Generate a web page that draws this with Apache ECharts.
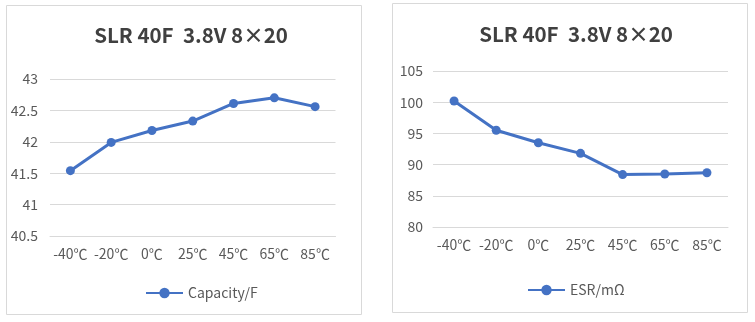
<!DOCTYPE html>
<html><head><meta charset="utf-8">
<script src="https://cdn.jsdelivr.net/npm/echarts@6/dist/echarts.min.js"></script>
<style>html,body{margin:0;padding:0;background:#fff}#c{width:755px;height:322px}</style>
</head><body><div id="c"></div>
<script>
const categories = ['-40℃','-20℃','0℃','25℃','45℃','65℃','85℃'];
const capacity = [41.54, 41.99, 42.18, 42.33, 42.61, 42.70, 42.56];
const esr = [100.2, 95.5, 93.5, 91.8, 88.4, 88.5, 88.7];
const titleText = 'SLR 40F  3.8V 8×20';
const capName = 'Capacity/F';
const esrName = 'ESR/mΩ';

const font = '"Noto Sans CJK SC","Noto Sans",sans-serif';
const blue = '#4472C4';
const chart = echarts.init(document.getElementById('c'), null, {renderer:'canvas'});
const axisLabel = {color:'#595959', fontSize:14, fontFamily:font};
chart.setOption({
  animation:false,
  textStyle:{fontFamily:font},
  graphic:[
    {type:'rect', shape:{x:6.5,y:5.5,width:355,height:309}, style:{fill:'none',stroke:'#d9d9d9',lineWidth:1}},
    {type:'rect', shape:{x:392.5,y:3.5,width:355,height:309}, style:{fill:'none',stroke:'#d9d9d9',lineWidth:1}}
  ],
  title:[
    {text:titleText, left:186, top:20, textAlign:'center', textStyle:{fontSize:20.5, fontWeight:'bold', color:'#404040', fontFamily:font}},
    {text:titleText, left:571, top:19, textAlign:'center', textStyle:{fontSize:20.5, fontWeight:'bold', color:'#404040', fontFamily:font}}
  ],
  legend:[
    {data:[capName], left:140, top:281, itemWidth:37, itemHeight:13, itemGap:6, textStyle:{color:'#595959', fontSize:14, fontFamily:font}},
    {data:[esrName], left:522, top:278, itemWidth:37, itemHeight:13, textStyle:{color:'#595959', fontSize:14, fontFamily:font}}
  ],
  grid:[
    {left:50, right:419.5, top:79, bottom:86},
    {left:433, right:27, top:71, bottom:95}
  ],
  xAxis:[
    {type:'category', gridIndex:0, data:categories, axisTick:{show:false}, axisLine:{lineStyle:{color:'#d9d9d9'}}, axisLabel:Object.assign({margin:11, interval:0}, axisLabel)},
    {type:'category', gridIndex:1, data:categories, axisTick:{show:false}, axisLine:{lineStyle:{color:'#d9d9d9'}}, axisLabel:Object.assign({margin:11, interval:0}, axisLabel)}
  ],
  yAxis:[
    {type:'value', gridIndex:0, min:40.5, max:43, interval:0.5, axisLine:{show:false}, axisTick:{show:false}, splitLine:{lineStyle:{color:'#d9d9d9'}}, axisLabel:Object.assign({margin:12}, axisLabel)},
    {type:'value', gridIndex:1, min:80, max:105, interval:5, axisLine:{show:false}, axisTick:{show:false}, splitLine:{lineStyle:{color:'#d9d9d9'}}, axisLabel:Object.assign({margin:10}, axisLabel)}
  ],
  series:[
    {name:capName, type:'line', xAxisIndex:0, yAxisIndex:0, data:capacity, symbol:'circle', symbolSize:9, lineStyle:{color:blue,width:3}, itemStyle:{color:blue}},
    {name:esrName, type:'line', xAxisIndex:1, yAxisIndex:1, data:esr, symbol:'circle', symbolSize:9, lineStyle:{color:blue,width:3}, itemStyle:{color:blue}}
  ]
});
</script></body></html>
